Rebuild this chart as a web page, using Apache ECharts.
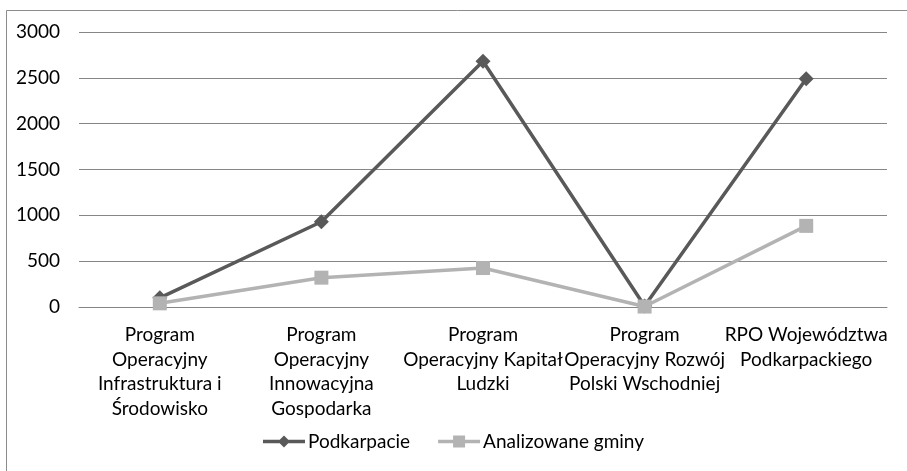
<!DOCTYPE html>
<html>
<head>
<meta charset="utf-8">
<script src="https://cdn.jsdelivr.net/npm/echarts@6/dist/echarts.min.js"></script>
<style>
  html, body { margin: 0; padding: 0; background: #fff; }
  #chart { width: 907px; height: 471px; }
</style>
</head>
<body>
<div id="chart"></div>
<script>
    "use strict";

    var categories = [
        'Program\nOperacyjny\nInfrastruktura i\nŚrodowisko',
        'Program\nOperacyjny\nInnowacyjna\nGospodarka',
        'Program\nOperacyjny Kapitał\nLudzki',
        'Program\nOperacyjny Rozwój\nPolski Wschodniej',
        'RPO Województwa\nPodkarpackiego'
    ];
    var podkarpacie = [100, 930, 2680, 10, 2490];
    var gminy = [40, 320, 425, 5, 885];

    var font = 'Lato, "Open Sans", sans-serif';

    // legend icons: thick line with the marker in the middle
    var iconDiamond = 'path://M0,5.25L42,5.25L42,8.75L0,8.75Z M21,1L27,7L21,13L15,7Z';
    var iconSquare = 'path://M0,5.25L42,5.25L42,8.75L0,8.75Z M15,1L27,1L27,13L15,13Z';

    // based on prepared DOM, initialize echarts instance
    var lineChart = echarts.init(document.getElementById('chart'));
    var option = {
        backgroundColor: '#fff',
        textStyle: { fontFamily: font },

        // outer frame
        graphic: [{
            type: 'rect',
            shape: { x: 6.5, y: 10.5, width: 1000, height: 1000 },
            style: { fill: 'none', stroke: '#8c8c8c', lineWidth: 1 },
            silent: true
        }],

        grid: { left: 79, right: 20, top: 32, bottom: 164 },

        legend: {
            bottom: 15,
            left: 'center',
            itemWidth: 42,
            itemHeight: 14,
            itemGap: 28,
            textStyle: { fontSize: 19, color: '#000', fontFamily: font, padding: [0, 0, 0, -2] },
            data: [
                { name: 'Podkarpacie', icon: iconDiamond },
                { name: 'Analizowane gminy', icon: iconSquare }
            ]
        },

        xAxis: {
            type: 'category',
            data: categories,
            boundaryGap: true,
            axisLine: { lineStyle: { color: '#868686', width: 1 } },
            axisTick: { show: false },
            axisLabel: {
                interval: 0,
                margin: 16,
                fontSize: 19,
                lineHeight: 24.5,
                color: '#000',
                fontFamily: font
            }
        },

        yAxis: {
            type: 'value',
            min: 0,
            max: 3000,
            interval: 500,
            axisLine: { show: false },
            axisTick: { show: false },
            axisLabel: {
                fontSize: 19,
                color: '#000',
                margin: 19,
                fontFamily: font,
                formatter: function (v) { return String(v); }
            },
            splitLine: { lineStyle: { color: '#868686', width: 1 } }
        },

        series: [{
            name: 'Podkarpacie',
            type: 'line',
            data: podkarpacie,
            color: '#595959',
            symbol: 'diamond',
            symbolSize: 15,
            lineStyle: { width: 3.5, color: '#595959' },
            itemStyle: { color: '#595959' },
            z: 3
        }, {
            name: 'Analizowane gminy',
            type: 'line',
            data: gminy,
            color: '#b3b3b3',
            symbol: 'rect',
            symbolSize: 14,
            lineStyle: { width: 3.5, color: '#b3b3b3' },
            itemStyle: { color: '#b3b3b3' },
            z: 4
        }],
        animation: false
    };

    lineChart.setOption(option);
</script>
</body>
</html>
